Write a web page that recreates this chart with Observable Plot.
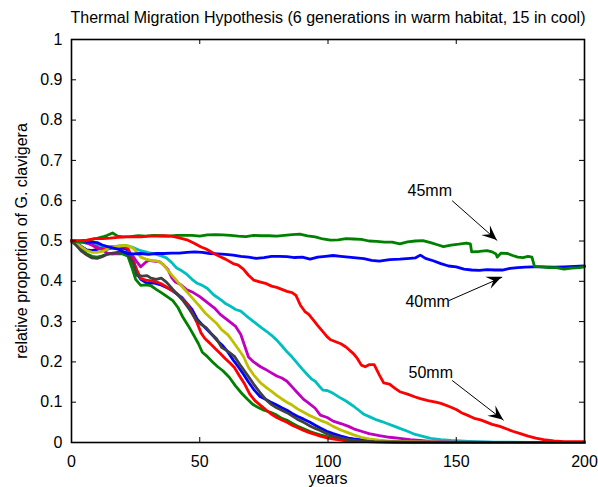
<!DOCTYPE html>
<html>
<head>
<meta charset="utf-8">
<script src="https://cdn.jsdelivr.net/npm/d3@7"></script>
<script src="https://cdn.jsdelivr.net/npm/@observablehq/plot@0.6"></script>
<style>
  html, body { margin: 0; padding: 0; background: #fff; }
  #chart { width: 598px; height: 487px; overflow: hidden; }
</style>
</head>
<body>
<div id="chart"></div>
<script>
// ---- Data ----
const titleText = "Thermal Migration Hypothesis (6 generations in warm habitat, 15 in cool)";
const xLabel = "years";
const yLabel = "relative proportion of G. clavigera";
const xTicks = [0, 50, 100, 150, 200];
const yTicks = [0, 0.1, 0.2, 0.3, 0.4, 0.5, 0.6, 0.7, 0.8, 0.9, 1];

// [year, proportion]
const blue5 = [[0,.5],[2,.495],[4,.486],[6,.478],[8,.476],[10,.479],[12,.482],[14,.480],[16,.483],[18,.481],[20,.482],[22,.478],[24,.455],[25.5,.418],[27,.405],[29.5,.395],[32,.396],[34.5,.392],[37,.385],[39,.378],[41,.369],[43,.360],[45,.345],[47,.330],[49,.306],[51,.292],[53,.279],[55,.266],[57,.252],[59,.240],[61,.224],[63,.205],[65,.188],[67,.170],[69,.150],[71,.132],[73.5,.114],[76,.106],[78,.099],[80,.093],[82,.086],[84,.080],[86,.072],[88,.065],[90.5,.058],[93,.050],[95,.043],[97,.036],[99.5,.028],[102,.022],[105,.016],[108,.011],[110,.009],[114,.006],[118,.004],[125,.002],[135,.001],[150,0],[200,0]];
const green10 = [[0,.5],[2,.49],[4,.48],[6,.468],[8,.462],[10,.46],[12,.463],[14,.468],[16,.469],[18,.468],[20,.468],[22,.462],[23.5,.435],[25,.405],[27,.39],[29,.391],[31,.389],[33,.38],[35,.372],[37,.363],[39.5,.352],[41.5,.335],[43.5,.31],[45.5,.29],[47.5,.268],[49.5,.245],[51,.224],[53,.213],[55,.2],[57,.188],[59,.178],[61.5,.162],[64,.14],[66.5,.121],[68.5,.108],[70.6,.095],[73,.086],[75,.08],[77.6,.075],[80,.068],[82,.06],[84,.055],[86,.048],[88,.041],[90.5,.034],[93,.027],[95,.023],[97,.019],[100,.014],[103,.01],[106,.007],[110,.004],[115,.002],[125,.001],[140,0],[200,0]];
const red15 = [[0,.5],[2,.499],[4,.497],[6,.496],[8,.49],[10,.482],[12,.481],[14,.484],[16,.486],[18,.485],[20,.486],[22,.482],[23.5,.46],[25.5,.428],[27,.407],[29,.403],[31,.401],[33,.399],[35,.394],[37,.386],[39,.378],[41,.370],[43,.358],[45,.344],[47,.322],[49,.296],[50.5,.272],[52,.258],[54,.246],[56,.233],[58,.221],[60,.208],[62,.196],[63.5,.186],[65.5,.165],[67.5,.145],[69.5,.120],[71.5,.104],[73.7,.092],[76,.080],[78,.070],[80,.062],[82,.056],[84,.050],[86,.043],[88,.037],[90.5,.030],[93,.024],[95,.020],[97,.016],[100,.011],[103,.008],[106,.005],[110,.003],[115,.002],[125,.001],[140,0],[200,0]];
const cyan20 = [[0,.5],[3,.497],[6,.495],[9,.492],[12,.488],[15,.485],[18,.487],[21,.489],[24,.484],[27,.476],[30,.471],[32.5,.468],[35,.463],[37,.458],[39,.447],[41,.433],[43,.426],[45,.417],[47,.405],[49,.395],[51,.39],[53,.382],[55.5,.366],[58,.355],[60,.345],[62,.338],[64,.33],[66,.326],[68,.315],[70,.305],[72,.295],[74,.285],[76,.276],[78,.266],[80,.254],[82,.24],[84,.225],[86,.212],[88,.197],[90,.182],[92,.168],[93.5,.158],[95,.152],[97,.137],[98,.13],[99.7,.129],[102,.122],[104.5,.112],[107,.103],[110,.09],[112,.08],[114,.07],[116.5,.063],[119,.056],[121,.052],[123,.047],[126,.04],[128,.035],[131,.028],[134,.02],[137,.015],[140,.01],[144,.007],[148,.005],[155,.003],[165,.001],[180,0],[200,0]];
const magenta25 = [[0,.5],[2,.499],[4,.498],[6,.495],[8,.49],[10,.485],[12,.478],[14,.47],[16,.468],[18,.47],[20,.472],[22,.472],[24,.462],[25.5,.448],[27,.436],[28.5,.445],[30,.452],[32,.45],[34.5,.448],[36,.44],[37.5,.43],[39,.41],[40.5,.398],[42.5,.392],[45,.379],[47.5,.372],[50,.362],[52,.352],[54,.342],[56,.332],[58,.318],[60,.308],[62,.298],[64,.288],[66,.268],[67.5,.24],[69,.212],[71,.2],[73.7,.188],[75.5,.182],[77.6,.174],[80,.165],[82,.16],[84,.152],[86,.138],[88,.124],[90.5,.107],[92,.1],[95,.085],[97,.068],[99.7,.062],[102,.053],[105,.047],[108,.04],[110,.034],[113,.028],[116,.022],[120,.017],[124,.013],[128,.01],[132,.007],[136,.005],[140,.003],[150,.001],[165,0],[200,0]];
const yellow30 = [[0,.5],[2,.494],[4,.485],[6,.476],[8,.472],[10,.472],[12,.474],[14,.48],[16,.485],[18,.487],[20,.489],[22,.488],[24,.482],[25.5,.472],[27,.46],[29,.455],[31,.452],[33,.451],[35,.446],[36.5,.436],[38,.424],[39.5,.413],[41.5,.398],[43.5,.384],[45.5,.37],[48,.352],[50,.338],[52,.322],[54,.31],[56.5,.296],[58.5,.28],[61,.267],[63,.25],[65,.232],[67,.214],[69,.186],[71,.168],[73.7,.148],[76,.136],[78,.127],[80,.117],[82,.108],[84,.1],[86,.093],[88,.084],[90.5,.075],[92.5,.068],[95,.061],[97,.055],[99.5,.049],[102,.04],[105,.031],[108,.024],[110,.019],[113,.013],[116,.009],[120,.006],[125,.003],[132,.002],[145,.001],[160,0],[200,0]];
const gray35 = [[0,.5],[2,.488],[4,.474],[6,.465],[8,.458],[10,.457],[12,.461],[14,.467],[16,.470],[18,.472],[20,.473],[22,.468],[24,.445],[25.5,.415],[27.5,.413],[29.5,.414],[31,.408],[33,.405],[35,.408],[37,.398],[39.5,.380],[41.5,.366],[43.5,.352],[46,.330],[48.5,.305],[50.5,.293],[52.5,.285],[54.5,.270],[56.5,.258],[58.5,.236],[61,.226],[63.5,.214],[66,.190],[68.5,.168],[71,.145],[73.5,.124],[76,.105],[78,.094],[80,.086],[82,.080],[84,.074],[86,.066],[88,.058],[90.5,.050],[93,.041],[95,.035],[97,.030],[99.5,.022],[102,.016],[105,.011],[108,.007],[112,.004],[118,.002],[130,.001],[145,0],[200,0]];
const blue40 = [[0,.5],[2,.5],[4,.499],[6,.497],[8,.497],[10,.496],[12,.49],[14,.486],[16,.483],[18,.48],[20,.474],[21.7,.469],[24,.468],[27,.469],[30,.467],[33,.469],[36,.469],[39,.47],[42,.47],[45,.472],[48,.473],[51,.472],[54,.469],[57,.468],[60,.467],[63,.465],[66,.462],[69,.46],[72,.457],[75,.459],[78,.462],[81,.462],[84,.461],[87,.459],[90,.46],[93,.455],[96,.46],[99,.462],[102,.464],[105,.462],[108,.46],[111,.458],[114,.456],[117,.452],[120,.45],[124,.454],[128,.455],[132,.457],[134,.458],[136,.465],[138,.457],[141,.451],[144,.444],[147,.438],[150,.436],[153,.43],[156,.428],[159,.427],[162,.429],[165,.428],[168,.428],[171,.432],[174,.434],[177,.435],[180,.436],[184,.436],[188,.435],[192,.436],[196,.437],[200,.438]];
const green45 = [[0,.5],[3,.497],[6,.501],[9,.505],[12,.51],[14,.514],[16,.52],[18,.512],[20,.51],[23,.511],[26,.513],[29,.512],[32,.514],[35,.513],[38,.512],[41,.514],[44,.514],[47,.514],[50,.512],[53,.515],[56,.516],[59,.515],[62,.514],[65,.512],[68,.511],[71,.514],[74,.513],[77,.513],[80,.512],[83,.514],[86,.516],[89,.517],[92,.513],[95,.51],[98,.505],[101,.502],[104,.503],[107,.506],[110,.505],[113,.504],[116,.5],[119,.499],[122,.497],[125,.497],[128,.493],[131,.498],[134,.5],[137,.501],[140,.496],[143,.49],[145,.486],[148,.49],[151,.492],[154,.495],[155.5,.493],[156,.473],[159,.474],[162,.476],[164,.473],[165.5,.468],[166,.46],[167.5,.47],[170,.469],[172,.464],[174,.46],[176,.459],[178,.462],[179.5,.46],[180.5,.437],[183,.436],[186,.434],[189,.434],[192,.43],[195,.433],[198,.434],[200,.436]];
const red50 = [[0,.5],[3,.501],[6,.502],[9,.506],[12,.506],[15,.507],[18,.509],[21,.51],[24,.511],[27,.51],[30,.512],[33,.512],[36,.513],[39,.512],[42,.508],[45,.503],[48,.494],[50.5,.485],[52.5,.48],[55.5,.469],[58,.461],[60,.455],[63,.444],[65,.44],[67,.43],[69,.415],[71,.403],[73.7,.398],[76,.394],[78,.388],[80,.385],[82,.38],[84,.375],[86,.372],[87.5,.365],[89.3,.34],[91,.325],[92.5,.318],[94.4,.303],[96,.29],[98,.275],[99.7,.262],[101,.255],[103,.25],[105,.245],[107,.237],[110,.22],[111.5,.208],[113,.192],[114.5,.188],[116,.193],[118,.193],[120,.168],[121.7,.148],[124,.145],[126,.135],[128,.126],[131,.12],[134,.113],[136,.109],[139,.104],[142,.1],[144,.097],[147,.09],[150,.082],[152,.074],[155,.066],[157,.06],[159.5,.056],[162,.05],[164,.045],[167,.04],[170,.033],[172,.028],[175,.022],[178,.016],[181,.011],[184,.007],[188,.004],[192,.002],[200,.002]];

const seriesData = [blue5, green10, red15, cyan20, magenta25, yellow30, gray35, blue40, green45, red50];
const seriesColors = ["#0000ff", "#008000", "#ff0000", "#00bfbf", "#bf00bf", "#bfbf00", "#404040", "#0000ff", "#008000", "#ff0000"];

// annotations
const annotLabels = ["45mm", "40mm", "50mm"];
const annotTextX = [131.0, 130.2, 131.4];
const annotTextY = [0.624, 0.350, 0.174];
const arrowX1 = [148.4, 147.1, 148.4];
const arrowY1 = [0.600, 0.352, 0.154];
const arrowX2 = [166.0, 167.9, 168.5];
const arrowY2 = [0.501, 0.410, 0.055];

const FONT = "'Liberation Sans', Arial, Helvetica, sans-serif";
const FS = 16;

const annots = annotLabels.map((t, i) => ({t, x: annotTextX[i], y: annotTextY[i]}));
const arrows = arrowX1.map((x1, i) => ({x1, y1: arrowY1[i], x2: arrowX2[i], y2: arrowY2[i]}));

const frameH = 487 - 39 - 45;

const plot = Plot.plot({
  width: 598,
  height: 487,
  marginLeft: 71,
  marginRight: 14,
  marginTop: 39,
  marginBottom: 45,
  style: {fontFamily: FONT, fontSize: FS + "px", background: "#fff", color: "#000"},
  x: {domain: [0, 200]},
  y: {domain: [0, 1]},
  marks: [
    ...seriesData.map((s, i) => Plot.line(s, {x: d => d[0], y: d => d[1], stroke: seriesColors[i], strokeWidth: 2.8, strokeLinejoin: "round", strokeLinecap: "round"})),
    Plot.frame({stroke: "#000", strokeWidth: 1.6}),
    // inward ticks on all four sides
    Plot.tickX(xTicks, {x: d => d, insetTop: frameH - 5, stroke: "#000", strokeWidth: 1}),
    Plot.tickX(xTicks, {x: d => d, insetBottom: frameH - 5, stroke: "#000", strokeWidth: 1}),
    Plot.tickY(yTicks, {y: d => d, insetRight: 513 - 5, stroke: "#000", strokeWidth: 1}),
    Plot.tickY(yTicks, {y: d => d, insetLeft: 513 - 5, stroke: "#000", strokeWidth: 1}),
    Plot.axisX(xTicks, {tickSize: 0, tickPadding: 13, label: null, fontSize: FS, fill: "#000"}),
    Plot.axisY(yTicks, {tickSize: 0, tickPadding: 9, label: null, fontSize: FS, fill: "#000", tickFormat: d => String(d)}),
    // titles
    Plot.text([titleText], {text: d => d, frameAnchor: "top", textAnchor: "middle", lineAnchor: "middle", dy: -21.5, fontSize: FS, fill: "#000"}),
    Plot.text([xLabel], {text: d => d, frameAnchor: "bottom", textAnchor: "middle", lineAnchor: "middle", dy: 36, fontSize: FS, fill: "#000"}),
    Plot.text([yLabel], {text: d => d, frameAnchor: "left", textAnchor: "middle", lineAnchor: "middle", rotate: -90, dx: -50, fontSize: FS, fill: "#000"}),
    // annotations
    Plot.text(annots, {x: "x", y: "y", text: "t", textAnchor: "start", lineAnchor: "middle", fontSize: FS, fill: "#000"}),
    Plot.link(arrows, {x1: "x1", y1: "y1", x2: "x2", y2: "y2", stroke: "#000", strokeWidth: 1})
  ]
});

// filled arrowheads (vback2 style) at the arrow tips, placed via the plot's scales
const sx = plot.scale("x"), sy = plot.scale("y");
const svg = d3.select(plot);
arrows.forEach(a => {
  const x1 = sx.apply(a.x1), y1 = sy.apply(a.y1);
  const x2 = sx.apply(a.x2), y2 = sy.apply(a.y2);
  const ang = Math.atan2(y2 - y1, x2 - x1);
  const L = 15, W = 6.5, N = 9;
  const ux = Math.cos(ang), uy = Math.sin(ang);
  const px = -uy, py = ux;
  const pts = [
    [x2, y2],
    [x2 - L * ux + W * px, y2 - L * uy + W * py],
    [x2 - N * ux, y2 - N * uy],
    [x2 - L * ux - W * px, y2 - L * uy - W * py]
  ];
  svg.append("path")
    .attr("d", "M" + pts.map(p => p.join(",")).join("L") + "Z")
    .attr("fill", "#000")
    .attr("stroke", "none");
});

document.getElementById("chart").appendChild(plot);
</script>
</body>
</html>
